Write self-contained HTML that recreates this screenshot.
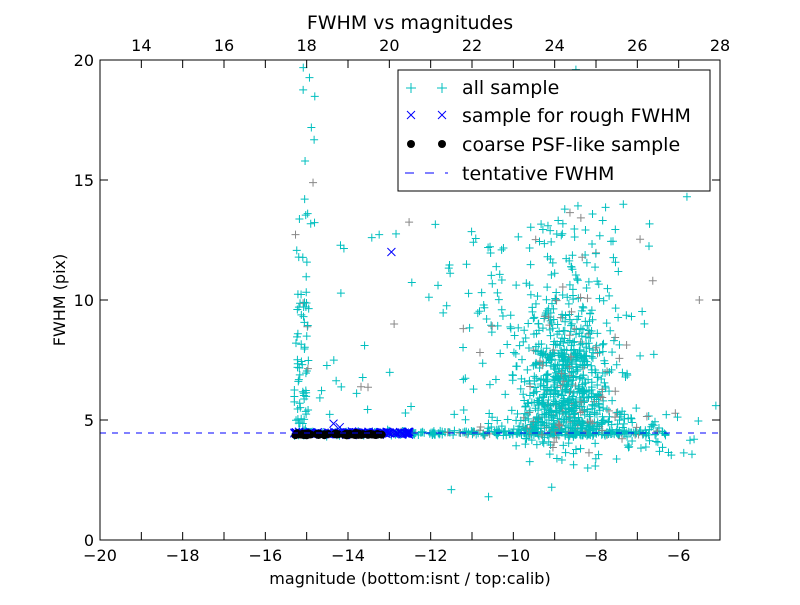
<!DOCTYPE html>
<html><head><meta charset="utf-8"><style>
html,body{margin:0;padding:0;background:#fff;}
svg text{font-family:"DejaVu Sans","Liberation Sans",sans-serif;}
</style></head><body>
<svg id="s" width="800" height="600" xmlns="http://www.w3.org/2000/svg">
<rect width="800" height="600" fill="#fff"/>
<g id="pts"></g>
<line x1="100" y1="433" x2="720" y2="433" stroke="#0000ff" stroke-width="1" stroke-dasharray="6,6"/>
<rect x="100" y="60" width="620" height="480" fill="none" stroke="#000" stroke-width="1"/>
<g id="ticks" stroke="#000" stroke-width="1"></g>
<g font-size="16" fill="#000" id="lbl"></g>
<text x="410" y="29" font-size="19" text-anchor="middle">FWHM vs magnitudes</text>
<text x="410" y="584" font-size="16" text-anchor="middle">magnitude (bottom:isnt / top:calib)</text>
<text x="65" y="300" font-size="16" text-anchor="middle" transform="rotate(-90 65 300)">FWHM (pix)</text>
<g>
<rect x="398" y="70" width="312" height="121" fill="#fff" stroke="#000"/>
<g stroke="#00bfbf"><line x1="406" y1="88" x2="416" y2="88"/><line x1="411" y1="83" x2="411" y2="93"/><line x1="437" y1="88" x2="447" y2="88"/><line x1="442" y1="83" x2="442" y2="93"/></g>
<g stroke="#0000ff"><path d="M407 111l8 8M415 111l-8 8M438 111l8 8M446 111l-8 8"/></g>
<circle cx="411" cy="144" r="4"/><circle cx="442" cy="144" r="4"/>
<line x1="405" y1="173" x2="448" y2="173" stroke="#0000ff" stroke-dasharray="9,11"/>
<text x="462" y="94" font-size="19">all sample</text>
<text x="462" y="122" font-size="19">sample for rough FWHM</text>
<text x="462" y="151" font-size="19">coarse PSF-like sample</text>
<text x="462" y="180" font-size="19">tentative FWHM</text>
</g>
</svg>
<script>
var seed=12345;function r(){seed=(seed*1103515245+12345)%2147483648;return seed/2147483648;}
function g(){return (r()+r()+r()+r()-2)*1.73;}
var X=function(m){return 100+(m+20)*620/15;},Y=function(f){return 540-f*24;};
var out="";
function plus(m,f,c){var x=X(m),y=Y(f);if(x<100||x>720||y<60||y>540)return;out+='<path d="M'+(x-4)+' '+y+'h8M'+x+' '+(y-4)+'v8" stroke="'+c+'" stroke-width="1" fill="none"/>';}
function cr(m,f){var x=X(m),y=Y(f);out+='<path d="M'+(x-4)+' '+(y-4)+'l8 8M'+(x+4)+' '+(y-4)+'l-8 8" stroke="#0000ff" fill="none"/>';}
function dot(m,f){out+='<circle cx="'+X(m)+'" cy="'+Y(f)+'" r="4" fill="#000"/>';}
var i;
function col(){return r()<0.1?"#888":"#00bfbf";}
for(i=0;i<70;i++)plus(-15.3+r()*0.35,4.6+Math.pow(r(),1.5)*9,col());
for(i=0;i<12;i++)plus(-15.2+r()*0.4,13+r()*7,col());
for(i=0;i<45;i++)plus(-14.7+r()*4.5,5+r()*9,col());
for(i=0;i<300;i++)plus(-15.3+r()*9,4.45+g()*0.05,col());
for(i=0;i<70;i++)plus(-11+r()*4.5,4.5+Math.abs(g())*0.4,col());
for(i=0;i<800;i++){var m=-8.7+g()*0.55,f=6.8+g()*1.6;if(r()<0.2)f=4.3+r()*1.5;if(r()<0.08)f=9+r()*5;plus(m,f,col());}
for(i=0;i<90;i++)plus(-11.5+r()*5,5+r()*8,col());
for(i=0;i<25;i++)plus(-10.5+r()*4,13+r()*7,col());
for(i=0;i<40;i++)plus(-8+r()*2.5,3.3+r()*2,col());
plus(-11.5,2.1,"#00bfbf");plus(-10.6,1.8,"#00bfbf");plus(-8.2,3.0,"#00bfbf");plus(-5.1,5.6,"#00bfbf");plus(-5.5,10,"#888");plus(-5.8,14.3,"#00bfbf");
for(i=0;i<150;i++)cr(-15.3+r()*2.8,4.45+g()*0.03);
cr(-14.35,4.85);cr(-14.2,4.7);cr(-12.95,12);
var cl=[-15.2,-15.05,-14.95,-14.7,-14.5,-14.3,-14.0,-13.85,-13.7,-13.45,-13.3];
for(i=0;i<70;i++)dot(cl[Math.floor(r()*cl.length)]+g()*0.04,4.4+g()*0.02);
document.getElementById("pts").innerHTML=out;
var t="",l="";
for(var v=-20;v<=-6;v+=2){var x=X(v);t+='<path d="M'+x+' 540v-8M'+x+' 60v8"/>';l+='<text x="'+x+'" y="561" text-anchor="middle">\u2212'+(-v)+'</text>';}
for(var v=14;v<=28;v+=2){var x=100+(v-13)*620/15;t+='<path d="M'+x+' 60v8M'+x+' 540v-8"/>';l+='<text x="'+x+'" y="51" text-anchor="middle">'+v+'</text>';}
for(var v=0;v<=20;v+=5){var y=Y(v);t+='<path d="M100 '+y+'h8M720 '+y+'h-8"/>';l+='<text x="94" y="'+(y+6)+'" text-anchor="end">'+v+'</text>';}
document.getElementById("ticks").innerHTML=t;document.getElementById("lbl").innerHTML=l;
</script>
</body></html>
